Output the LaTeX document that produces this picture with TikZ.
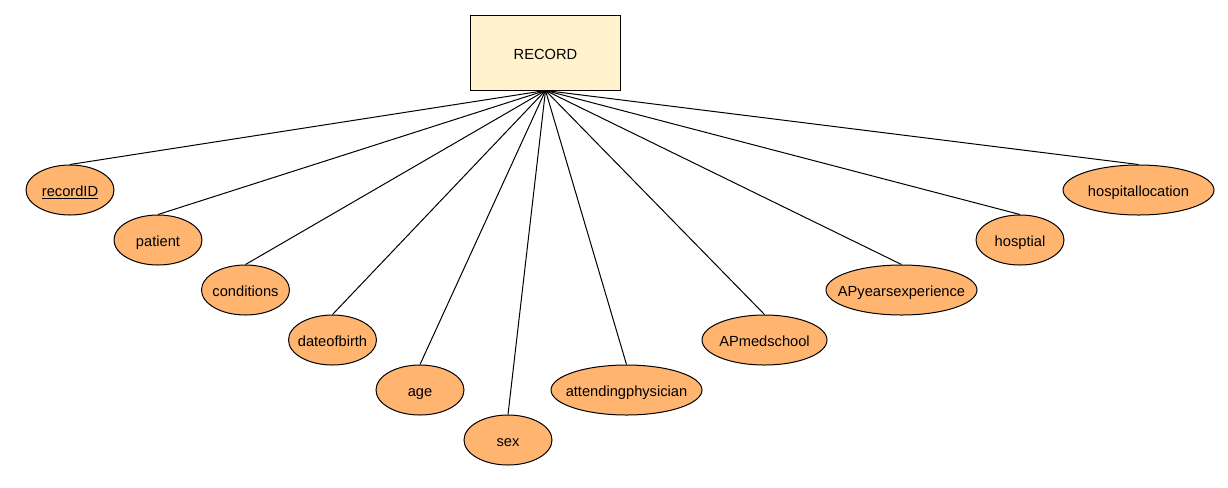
\documentclass[tikz,border=0pt]{standalone}
\usepackage{fontspec}
\setmainfont{Liberation Sans}
\usetikzlibrary{shapes.geometric}
\definecolor{Ent}{HTML}{FFF2CC}
\definecolor{Attr}{HTML}{FFB570}

\begin{document}
\begin{tikzpicture}[x=0.75pt, y=-0.75pt, line width=0.75pt, font=\fontsize{11}{13}\selectfont,
  entity/.style={draw, fill=Ent, minimum width=112.5pt, minimum height=56.25pt, inner sep=0pt, text height=9.8pt, text depth=0pt},
  attr/.style={draw, ellipse, fill=Attr, minimum width=66pt, minimum height=37.5pt, inner sep=0pt},
  wideattr/.style={attr, minimum width=113.25pt},
  every label/.style={inner sep=0pt, text height=9.8pt, text depth=0pt}]
  \useasboundingbox (0,0) rectangle (1228,487);
  \node[entity] (rec) at (545.5,52.5) {RECORD};
  \node[attr, label=center:\underline{recordID}] (recid) at (70,190) {};
  \node[attr, label=center:patient] (pat) at (158,240) {};
  \node[attr, label=center:conditions] (cond) at (245.5,290) {};
  \node[attr, label=center:dateofbirth] (dob) at (332.5,340) {};
  \node[attr, label=center:age] (age) at (420,390) {};
  \node[attr, label=center:sex] (sex) at (508,440) {};
  \node[wideattr, label=center:attendingphysician] (phys) at (626.5,390) {};
  \node[attr, minimum width=93.75pt, label=center:APmedschool] (med) at (764.5,340) {};
  \node[wideattr, label=center:APyearsexperience] (exp) at (901.5,290) {};
  \node[attr, label=center:hosptial] (hosp) at (1020,240) {};
  \node[wideattr, label=center:hospitallocation] (loc) at (1138.5,190) {};
  \draw (rec.south) -- (recid.north);
  \draw (rec.south) -- (pat.north);
  \draw (rec.south) -- (cond.north);
  \draw (rec.south) -- (dob.north);
  \draw (rec.south) -- (age.north);
  \draw (rec.south) -- (sex.north);
  \draw (rec.south) -- (phys.north);
  \draw (rec.south) -- (med.north);
  \draw (rec.south) -- (exp.north);
  \draw (rec.south) -- (hosp.north);
  \draw (rec.south) -- (loc.north);
\end{tikzpicture}
\end{document}
